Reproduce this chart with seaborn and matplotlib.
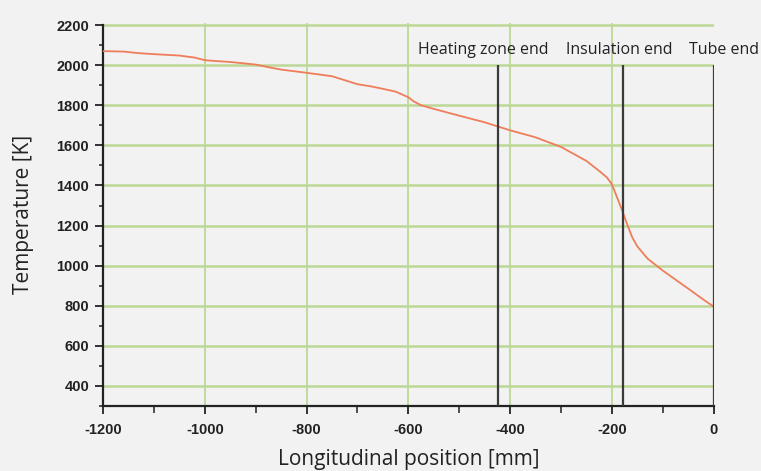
import matplotlib
matplotlib.use('Agg')
import matplotlib.pyplot as plt
import seaborn as sns
import pandas as pd
from matplotlib.ticker import MultipleLocator

# 温度沿管长分布 (读自图片)
position_mm = [-1200, -1160, -1130, -1100, -1050, -1020, -1000, -975, -950, -900,
               -875, -850, -800, -750, -725, -700, -675, -650, -625, -600,
               -590, -575, -550, -500, -450, -400, -350, -300, -250, -225,
               -210, -200, -190, -180, -170, -160, -150, -130, -100, -50,
               -20, 0]
temperature_k = [2070, 2068, 2060, 2055, 2048, 2038, 2025, 2020, 2016, 2003,
                 1990, 1978, 1962, 1945, 1925, 1905, 1895, 1882, 1868, 1840,
                 1820, 1800, 1782, 1748, 1715, 1675, 1640, 1592, 1522, 1472,
                 1440, 1405, 1340, 1275, 1205, 1140, 1095, 1035, 975, 885,
                 830, 795]

marker_names = ['Heating zone end', 'Insulation end', 'Tube end']
marker_pos = [-424, -179, 0]
label_centers = [-452, -186, 20]

bg = '#f2f2f2'
grid_green = '#bcd896'
line_color = '#ef7d5a'

sns.set_theme(style='white')
plt.rcParams['font.family'] = ['Open Sans', 'DejaVu Sans']
plt.rcParams['axes.unicode_minus'] = False

df = pd.DataFrame({'pos': position_mm, 'temp': temperature_k})

fig = plt.figure(figsize=(7.61, 4.71), dpi=100, facecolor=bg)
ax = fig.add_axes([0.1353, 0.138, 0.8027, 0.813])
ax.set_facecolor(bg)

# 网格
for yv in range(400, 2201, 200):
    ax.axhline(yv, color=grid_green, lw=1.8, zorder=1)
for xv in range(-1000, 0, 200):
    ax.axvline(xv, color=grid_green, lw=1.3, zorder=1)

sns.lineplot(data=df, x='pos', y='temp', ax=ax, color=line_color, lw=1.3, zorder=3)

ax.vlines(marker_pos, 300, 2000, color='#3a3a3a', lw=1.6, zorder=4)
for name, xc in zip(marker_names, label_centers):
    ax.text(xc, 2076, name, ha='center', va='center', fontsize=11.5,
            color='#222222', clip_on=False)

ax.set_xlim(-1200, 0)
ax.set_ylim(300, 2210)
ax.xaxis.set_major_locator(MultipleLocator(200))
ax.xaxis.set_minor_locator(MultipleLocator(100))
ax.set_yticks(range(400, 2201, 200))
ax.set_yticks(range(300, 2201, 100), minor=True)

for s in ['top', 'right']:
    ax.spines[s].set_visible(False)
for s in ['left', 'bottom']:
    ax.spines[s].set_color('#222222')
    ax.spines[s].set_linewidth(1.6)
ax.spines['left'].set_bounds(300, 2200)

ax.tick_params(axis='both', which='major', direction='out', length=6, width=1.3,
               color='#222222', labelsize=10.5, labelcolor='#222222', pad=4)
ax.tick_params(axis='both', which='minor', direction='out', length=3, width=1.1,
               color='#222222')
ax.tick_params(axis='x', which='major', pad=6)
ax.tick_params(axis='x', which='minor', length=5)
ax.tick_params(left=True, bottom=True, which='both')
for lab in ax.get_xticklabels() + ax.get_yticklabels():
    lab.set_family(['Liberation Sans', 'DejaVu Sans'])
    lab.set_fontweight('bold')

ax.set_xlabel('Longitudinal position [mm]', fontsize=15, color='#222222', labelpad=9)
ax.set_ylabel('Temperature [K]', fontsize=15, color='#222222', labelpad=16)

fig.savefig('out.png', dpi=100, facecolor=bg)
